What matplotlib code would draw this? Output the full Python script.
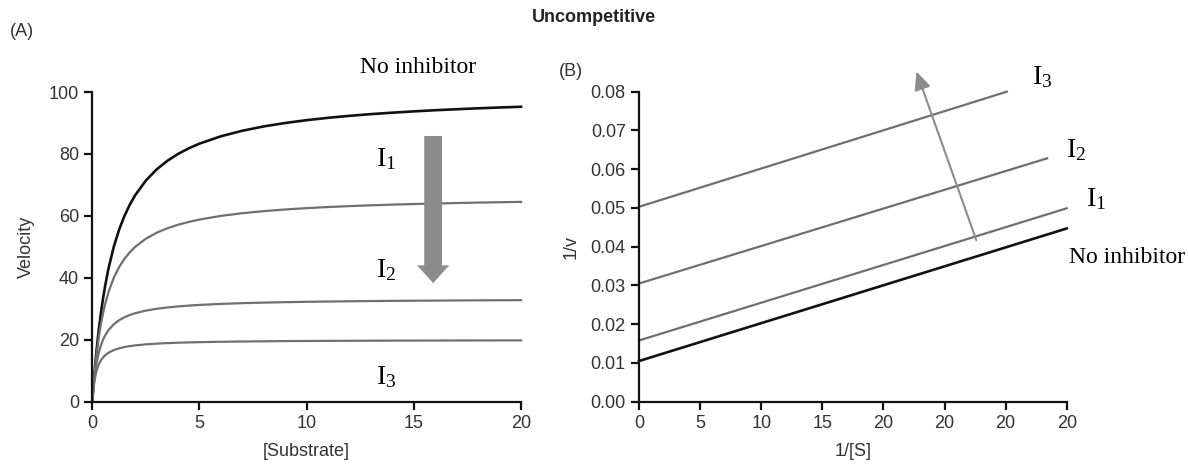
# -*- coding: utf-8 -*-
"""
Uncompetitive inhibition: Michaelis-Menten curves and Lineweaver-Burk lines.
"""

import matplotlib
matplotlib.use("Agg")
import matplotlib.pyplot as plt

# -----------------------------------------------------------------------------
# (A) velocity vs substrate
substrate = [0, 0.02, 0.05, 0.1, 0.15, 0.2, 0.3, 0.4, 0.5, 0.6, 0.75, 1,
             1.25, 1.5, 1.75, 2, 2.5, 3, 3.5, 4, 4.5, 5, 6, 7, 8, 9, 10, 11,
             12, 13, 14, 15, 16, 17, 18, 19, 20]
v_none = [0, 1.96, 4.76, 9.09, 13.04, 16.67, 23.08, 28.57, 33.33, 37.5,
          42.86, 50.0, 55.56, 60.0, 63.64, 66.67, 71.43, 75.0, 77.78, 80.0,
          81.82, 83.33, 85.71, 87.5, 88.89, 90.0, 90.91, 91.67, 92.31, 92.86,
          93.33, 93.75, 94.12, 94.44, 94.74, 95.0, 95.24]
v_i1 = [0, 1.94, 4.65, 8.70, 12.24, 15.38, 20.69, 25.0, 28.57, 31.58, 35.29,
        40.0, 43.48, 46.15, 48.28, 50.0, 52.63, 54.55, 56.0, 57.14, 58.06,
        58.82, 60.0, 60.87, 61.54, 62.07, 62.5, 62.86, 63.16, 63.41, 63.64,
        63.83, 64.0, 64.15, 64.29, 64.41, 64.52]
v_i2 = [0, 1.89, 4.35, 7.69, 10.34, 12.5, 15.79, 18.18, 20.0, 21.43, 23.08,
        25.0, 26.32, 27.27, 28.0, 28.57, 29.41, 30.0, 30.43, 30.77, 31.03,
        31.25, 31.58, 31.82, 32.0, 32.14, 32.26, 32.35, 32.43, 32.5, 32.56,
        32.61, 32.65, 32.69, 32.73, 32.76, 32.79]
v_i3 = [0, 1.82, 4.0, 6.67, 8.57, 10.0, 12.0, 13.33, 14.29, 15.0, 15.79,
        16.67, 17.24, 17.65, 17.95, 18.18, 18.52, 18.75, 18.92, 19.05, 19.15,
        19.23, 19.35, 19.44, 19.51, 19.57, 19.61, 19.64, 19.67, 19.70, 19.72,
        19.74, 19.75, 19.77, 19.78, 19.79, 19.80]

# (B) double reciprocal lines: start and end of each line
lb_x_start = [0, 0, 0, 0]
lb_x_end = [35, 35, 33.4, 30.1]
lb_y_start = [0.0105, 0.0158, 0.0305, 0.0503]
lb_y_end = [0.0447, 0.0499, 0.0628, 0.0800]

lb_ticks = [0, 5, 10, 15, 20, 25, 30, 35]
lb_tick_labels = ['0', '5', '10', '15', '20', '20', '20', '20']
lb_yticks = [0.00, 0.01, 0.02, 0.03, 0.04, 0.05, 0.06, 0.07, 0.08]

GREY = '#6f6f6f'
BLACK = '#111111'
ARROW = '#8c8c8c'
TICK_COLOR = '#333333'

plt.rcParams['font.family'] = ['Liberation Sans', 'DejaVu Sans']
plt.rcParams['mathtext.fontset'] = 'custom'
plt.rcParams['mathtext.rm'] = 'Liberation Serif'
plt.rcParams['mathtext.it'] = 'Liberation Serif:italic'

SERIF = ['Liberation Serif', 'DejaVu Serif']


# -----------------------------------------------------------------------------
def styleAxes(ax):
    """
    Prism-like axes: only left and bottom spines, outward ticks.
    """
    for side in ['top', 'right']:
        ax.spines[side].set_visible(False)
    for side in ['left', 'bottom']:
        ax.spines[side].set_linewidth(1.6)
        ax.spines[side].set_color(BLACK)
    ax.tick_params(direction='out', length=6, width=1.6,
                   labelsize=13, labelcolor=TICK_COLOR, color=BLACK)


# -----------------------------------------------------------------------------
def main():
    fig = plt.figure(figsize=(11.88, 4.75), dpi=100)

    axA = fig.add_axes([0.0777, 0.1543, 0.3609, 0.652])
    axB = fig.add_axes([0.5379, 0.1543, 0.3600, 0.6527])

    # Panel A
    axA.plot(substrate, v_none, color=BLACK, lw=1.9, clip_on=False)
    axA.plot(substrate, v_i1, color=GREY, lw=1.6, clip_on=False)
    axA.plot(substrate, v_i2, color=GREY, lw=1.6, clip_on=False)
    axA.plot(substrate, v_i3, color=GREY, lw=1.6, clip_on=False)
    axA.set_xlim(0, 20)
    axA.set_ylim(0, 100)
    axA.set_xticks([0, 5, 10, 15, 20])
    axA.set_yticks([0, 20, 40, 60, 80, 100])
    styleAxes(axA)
    axA.set_xlabel('[Substrate]', fontsize=13, color=TICK_COLOR, labelpad=8)
    axA.set_ylabel('Velocity', fontsize=13, color=TICK_COLOR, labelpad=10)

    axA.annotate('', xy=(15.9, 38.3), xytext=(15.9, 85.8),
                 arrowprops=dict(arrowstyle='simple,head_length=0.8,'
                                 'head_width=1.45,tail_width=0.8',
                                 mutation_scale=16, color=ARROW, lw=0,
                                 shrinkA=0, shrinkB=0))

    axA.text(15.2, 108, 'No inhibitor', family=SERIF, fontsize=17,
             ha='center', va='center')
    axA.text(13.7, 78.2, r'$\mathrm{I}_{1}$', fontsize=20, ha='center',
             va='center')
    axA.text(13.7, 42.6, r'$\mathrm{I}_{2}$', fontsize=20, ha='center',
             va='center')
    axA.text(13.7, 8.0, r'$\mathrm{I}_{3}$', fontsize=20, ha='center',
             va='center')

    # Panel B
    colors = [BLACK, GREY, GREY, GREY]
    for i in range(len(lb_y_start)):
        axB.plot([lb_x_start[i], lb_x_end[i]], [lb_y_start[i], lb_y_end[i]],
                 color=colors[i], lw=1.9 if i == 0 else 1.6, clip_on=False)
    axB.set_xlim(0, 35)
    axB.set_ylim(0, 0.08)
    axB.set_xticks(lb_ticks)
    axB.set_xticklabels(lb_tick_labels)
    axB.set_yticks(lb_yticks)
    axB.set_yticklabels(['%.2f' % y for y in lb_yticks])
    styleAxes(axB)
    axB.set_xlabel('1/[S]', fontsize=13, color=TICK_COLOR, labelpad=8)
    axB.set_ylabel('1/v', fontsize=13, color=TICK_COLOR, labelpad=8)

    axB.annotate('', xy=(22.7, 0.0852), xytext=(27.6, 0.0417),
                 annotation_clip=False,
                 arrowprops=dict(arrowstyle='-|>,head_length=0.55,'
                                 'head_width=0.25',
                                 mutation_scale=20, color=ARROW, lw=1.5,
                                 shrinkA=0, shrinkB=0))

    axB.text(33.0, 0.0838, r'$\mathrm{I}_{3}$', fontsize=20, ha='center',
             va='center')
    axB.text(35.8, 0.0650, r'$\mathrm{I}_{2}$', fontsize=20, ha='center',
             va='center')
    axB.text(37.4, 0.0523, r'$\mathrm{I}_{1}$', fontsize=20, ha='center',
             va='center')
    axB.text(39.9, 0.0371, 'No inhibitor', family=SERIF, fontsize=17,
             ha='center', va='center')

    # Titles and panel letters
    fig.text(594 / 1188, 1 - 18 / 475, 'Uncompetitive', fontsize=13,
             fontweight='bold', color='#222222', ha='center', va='center')
    fig.text(22 / 1188, 1 - 32 / 475, '(A)', fontsize=13, color=TICK_COLOR,
             ha='center', va='center')
    fig.text(571 / 1188, 1 - 72 / 475, '(B)', fontsize=13, color=TICK_COLOR,
             ha='center', va='center')

    fig.savefig('out.png', dpi=100)


# -----------------------------------------------------------------------------
if __name__ == "__main__":
    main()
